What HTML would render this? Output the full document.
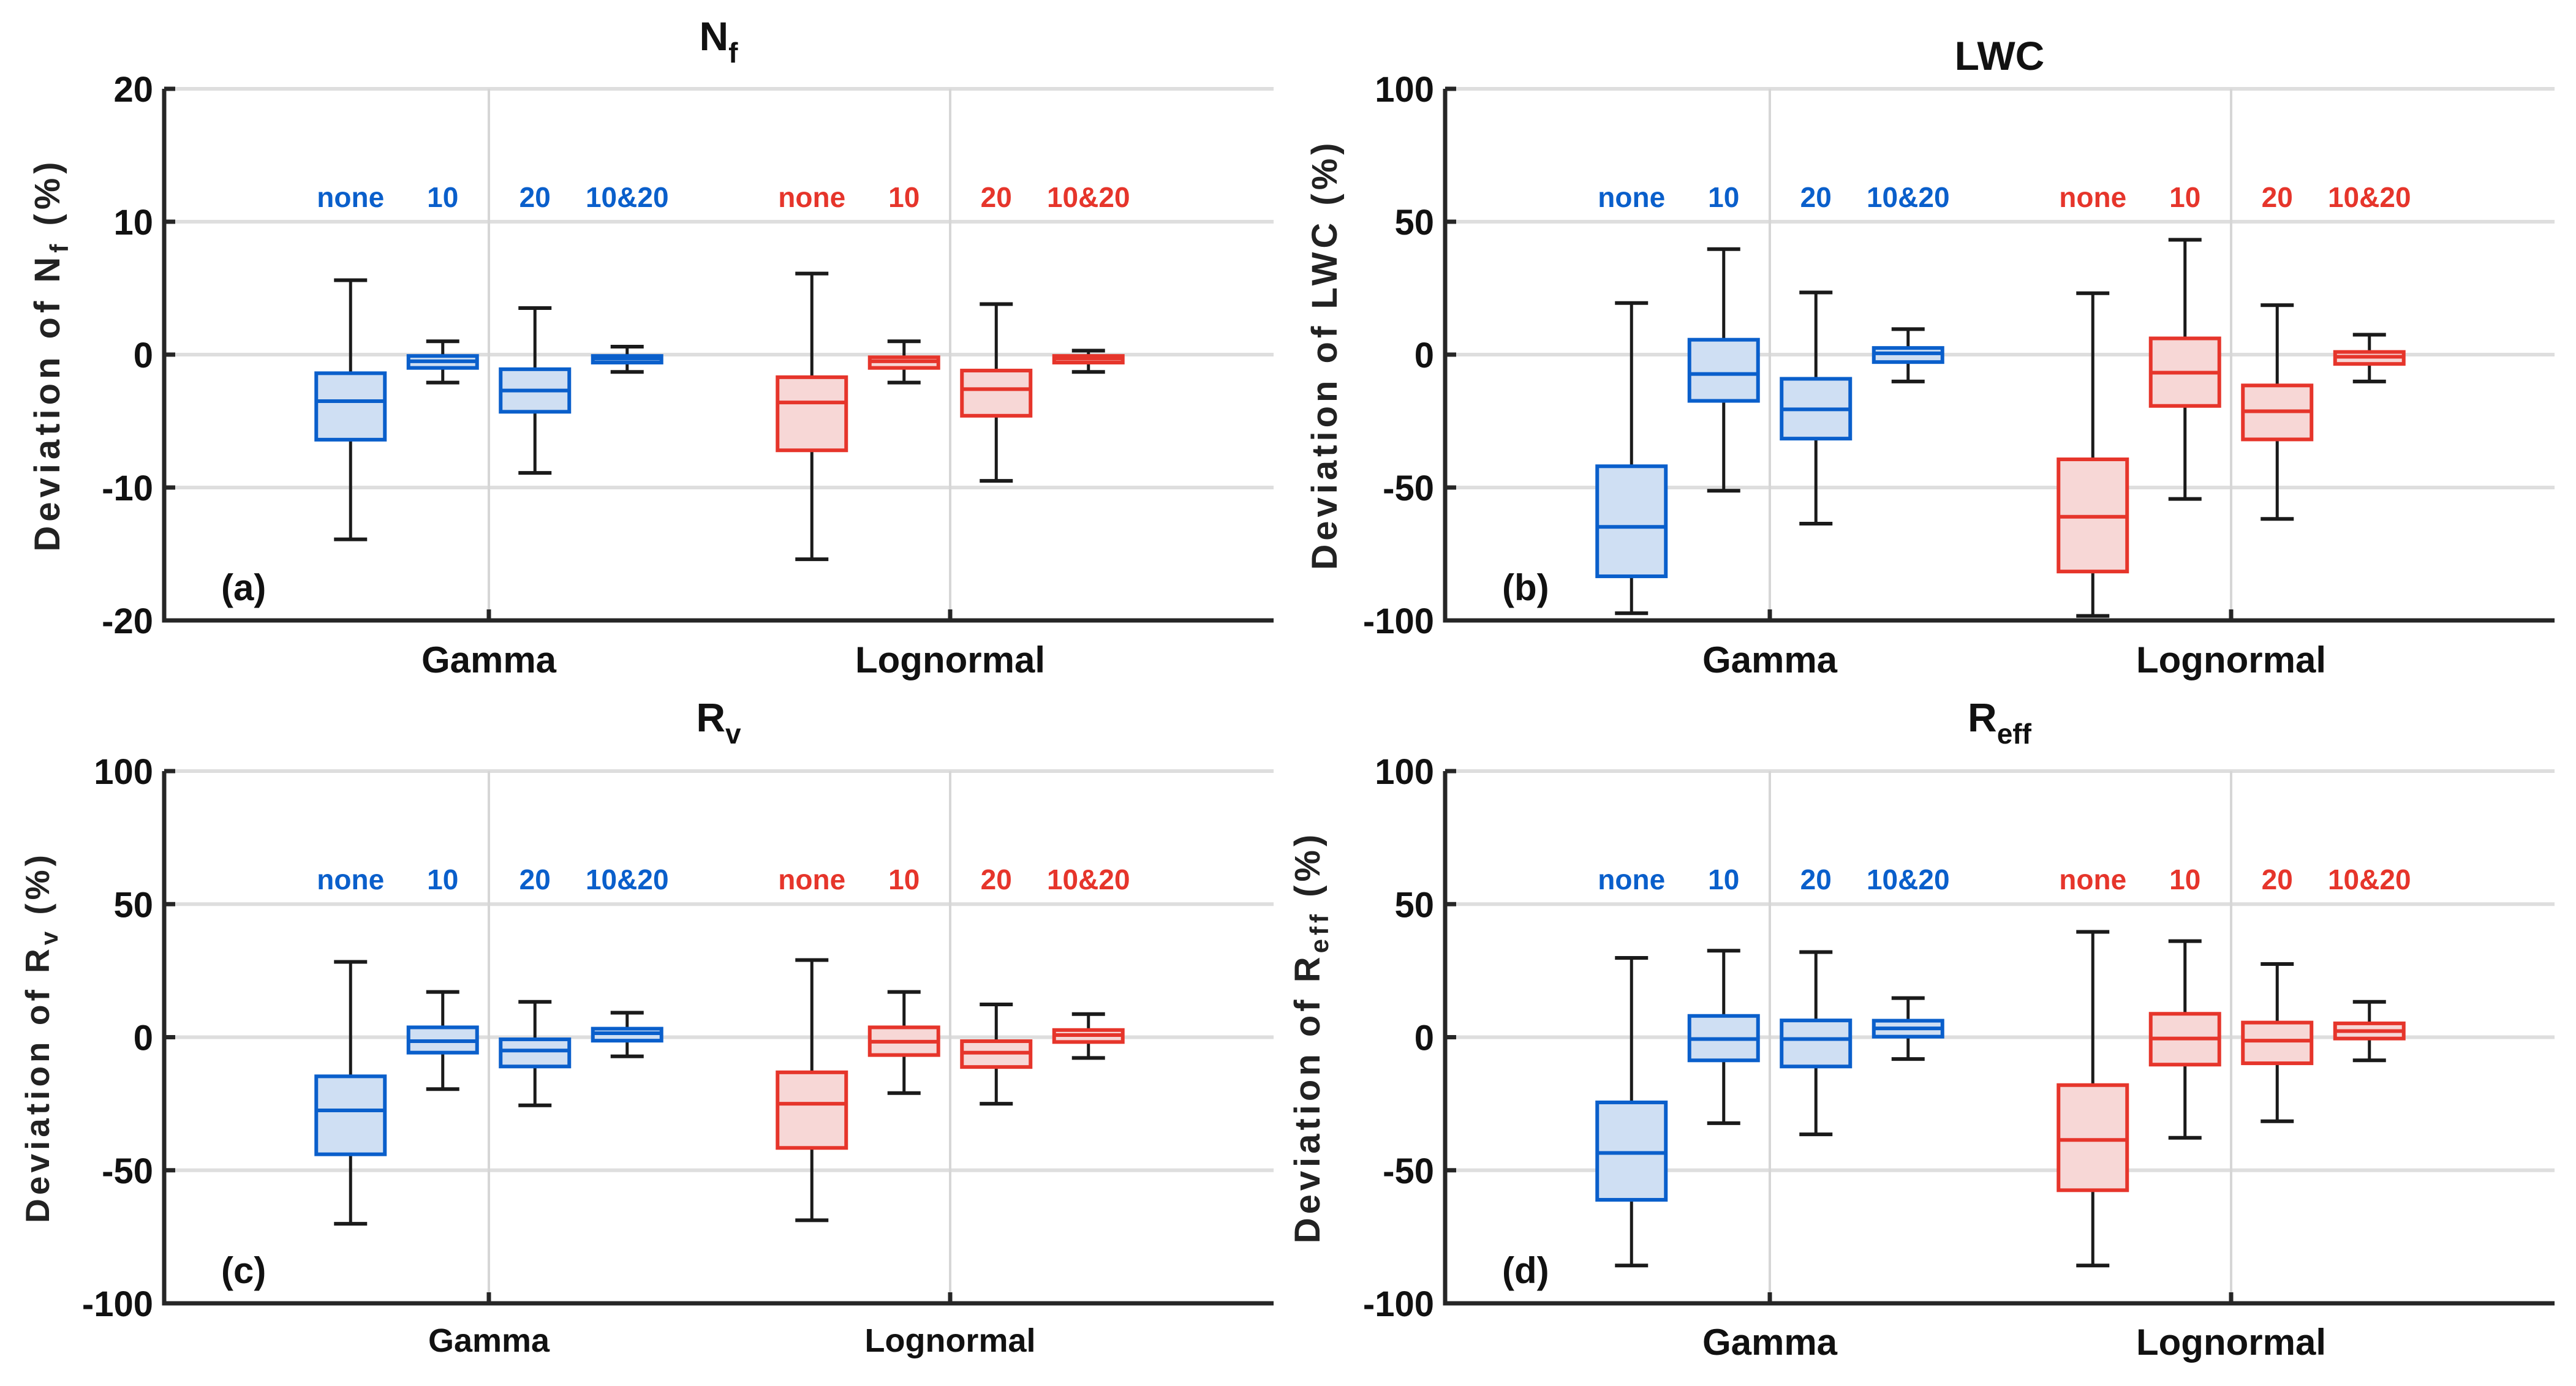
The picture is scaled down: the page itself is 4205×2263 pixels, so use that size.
<!DOCTYPE html>
<html><head><meta charset="utf-8"><style>
html,body{margin:0;padding:0;background:#fff;}
svg{display:block;font-family:"Liberation Sans",Arial,sans-serif;}
</style></head><body>
<svg id="chart" width="4205" height="2263" viewBox="0 0 4205 2263" xmlns="http://www.w3.org/2000/svg"></svg>
<script>
// ---- data: five-number summaries [whiskerLow, q1, median, q3, whiskerHigh] per filter setting
const categories = ["Gamma", "Lognormal"];
const filterLabels = ["none", "10", "20", "10&20"];
const nfGamma = [[-13.9,-6.4,-3.5,-1.4,5.6],[-2.1,-1.0,-0.5,-0.1,1.0],[-8.9,-4.3,-2.7,-1.1,3.5],[-1.3,-0.6,-0.3,-0.1,0.6]];
const nfLognormal = [[-15.4,-7.2,-3.6,-1.7,6.1],[-2.1,-1.0,-0.5,-0.2,1.0],[-9.5,-4.6,-2.6,-1.2,3.8],[-1.3,-0.6,-0.3,-0.1,0.3]];
const lwcGamma = [[-97.3,-83.4,-64.8,-42,19.4],[-51.2,-17.4,-7.3,5.6,39.7],[-63.6,-31.6,-20.6,-9.1,23.4],[-10.1,-2.8,0.5,2.5,9.6]];
const lwcLognormal = [[-98.3,-81.6,-61,-39.4,23.1],[-54.3,-19.3,-6.8,6.1,43.2],[-61.8,-31.9,-21.3,-11.6,18.6],[-10.1,-3.5,-0.8,1.0,7.5]];
const rvGamma = [[-70.1,-44,-27.5,-14.7,28.3],[-19.5,-5.8,-1.5,3.7,17],[-25.6,-11,-5,-0.8,13.3],[-7.2,-1.3,1.5,3.2,9.2]];
const rvLognormal = [[-68.8,-41.6,-25,-13.2,29],[-21,-6.7,-1.7,3.7,17],[-25,-11.2,-5.8,-1.5,12.3],[-7.8,-1.8,0.8,2.7,8.7]];
const reffGamma = [[-85.8,-61.1,-43.5,-24.5,29.8],[-32.3,-8.7,-0.7,8,32.5],[-36.5,-11,-0.7,6.3,32],[-8.2,0.2,3.3,6.2,14.7]];
const reffLognormal = [[-85.8,-57.5,-38.6,-18,39.6],[-37.8,-10.3,-0.5,8.8,36.1],[-31.6,-9.8,-1.3,5.5,27.5],[-8.7,-0.5,2.3,5.2,13.3]];
const nfTicks = [-20,-10,0,10,20];
const pctTicks = [-100,-50,0,50,100];

const NS = "http://www.w3.org/2000/svg";
const svg = document.getElementById("chart");
function el(tag, attrs, parent){
  const e = document.createElementNS(NS, tag);
  for (const k in attrs) e.setAttribute(k, attrs[k]);
  (parent||svg).appendChild(e);
  return e;
}
const BLUE="#0a5fcb", BLUEF="#cfdff3", RED="#e6352b", REDF="#f7d7d6", AX="#262626";

function panel(o){
  const g = el("g", {});
  
  
  const L=o.x0, T=o.y0, B=o.y1, R=o.x0+1811;
  const yScale = v => B - (v - o.ymin)/(o.ymax - o.ymin)*(B - T);
  const catX = i => L + 530 + i*753;
  const offs = [-1.5,-0.5,0.5,1.5];
  o.ticks.forEach(t=>{
    const gl = el("line",{x1:L,x2:R,y1:yScale(t),y2:yScale(t),stroke:"#dedede","stroke-width":6},g);
    
    
  });
  categories.forEach((c,i)=>{
    const vl = el("line",{x1:catX(i),x2:catX(i),y1:T,y2:B,stroke:"#d6d6d6","stroke-width":4},g);
    
    
  });
  [o.gamma, o.logn].forEach((set,ci)=>{
    const col = ci===0?BLUE:RED, fill = ci===0?BLUEF:REDF;
    set.forEach((s,j)=>{
      const cx = catX(ci) + offs[j]*150.5;
      const bg = el("g",{},g);
      
      
      el("line",{x1:cx,x2:cx,y1:yScale(s[4]),y2:yScale(s[3]),stroke:"#1a1a1a","stroke-width":5},bg);
      el("line",{x1:cx,x2:cx,y1:yScale(s[1]),y2:yScale(s[0]),stroke:"#1a1a1a","stroke-width":5},bg);
      el("line",{x1:cx-27,x2:cx+27,y1:yScale(s[4]),y2:yScale(s[4]),stroke:"#1a1a1a","stroke-width":6},bg);
      el("line",{x1:cx-27,x2:cx+27,y1:yScale(s[0]),y2:yScale(s[0]),stroke:"#1a1a1a","stroke-width":6},bg);
      el("rect",{x:cx-56,y:yScale(s[3]),width:112,height:Math.max(1,yScale(s[1])-yScale(s[3])),fill:fill,stroke:col,"stroke-width":6},bg);
      el("line",{x1:cx-56,x2:cx+56,y1:yScale(s[2]),y2:yScale(s[2]),stroke:col,"stroke-width":6},bg);
      const tl = el("text",{x:cx,y:o.labY,"text-anchor":"middle","font-size":46,"font-weight":"bold",fill:col},g);
      tl.textContent = filterLabels[j];
      
      
    });
  });
  const ax = el("path",{d:`M${L},${T} L${L},${B} L${R},${B}`,fill:"none",stroke:AX,"stroke-width":7},g);
  
  
  o.ticks.forEach(t=>{
    el("line",{x1:L,x2:L+18,y1:yScale(t),y2:yScale(t),stroke:AX,"stroke-width":7},g);
    const tx = el("text",{x:L-18,y:yScale(t)+21,"text-anchor":"end","font-size":58,"font-weight":"bold",fill:"#111"},g);
    tx.textContent = t;
    
    
  });
  categories.forEach((c,i)=>{
    el("line",{x1:catX(i),x2:catX(i),y1:B,y2:B-18,stroke:AX,"stroke-width":7},g);
    const ct = el("text",{x:catX(i),y:o.catY,"text-anchor":"middle","font-size":o.catSize,"font-weight":"bold",fill:"#111"},g);
    ct.textContent = c;
    
    
  });
  const pl = el("text",{x:L+93,y:B-33,"font-size":60,"font-weight":"bold",fill:"#111"},g);
  pl.textContent = o.letter;
  
  
  const ti = el("text",{x:L+905,y:o.titleY,"text-anchor":"middle","font-size":66,"font-weight":"bold",fill:"#111"},g);
  ti.innerHTML = o.title;
  
  
  const cy=(T+B)/2;
  const yl = el("text",{x:o.ylx,y:cy,"text-anchor":"middle","font-size":o.ylSize,"letter-spacing":o.ls,"font-weight":"bold",fill:"#222",transform:`rotate(-90 ${o.ylx} ${cy})`},g);
  yl.innerHTML = o.ylabel;
  
  
}

panel({name:"panel-a-nf",x0:268,y0:145,y1:1013,ymin:-20,ymax:20,ticks:nfTicks,gamma:nfGamma,logn:nfLognormal,
  labY:338,catY:1098,catSize:60,letter:"(a)",titleY:82,
  title:'N<tspan font-size="46" dy="20">f</tspan>',ylx:97,ylSize:58,ls:7,
  ylabel:'Deviation of N<tspan font-size="42" dy="14">f</tspan><tspan dy="-14"> (%)</tspan>'});
panel({name:"panel-b-lwc",x0:2359,y0:145,y1:1013,ymin:-100,ymax:100,ticks:pctTicks,gamma:lwcGamma,logn:lwcLognormal,
  labY:338,catY:1098,catSize:60,letter:"(b)",titleY:114,
  title:'LWC',ylx:2182,ylSize:58,ls:6,ylabel:'Deviation of LWC (%)'});
panel({name:"panel-c-rv",x0:268,y0:1259,y1:2128,ymin:-100,ymax:100,ticks:pctTicks,gamma:rvGamma,logn:rvLognormal,
  labY:1452,catY:2207,catSize:54,letter:"(c)",titleY:1194,
  title:'R<tspan font-size="46" dy="20">v</tspan>',ylx:80,ylSize:55,ls:6,
  ylabel:'Deviation of R<tspan font-size="40" dy="14">v</tspan><tspan dy="-14"> (%)</tspan>'});
panel({name:"panel-d-reff",x0:2359,y0:1259,y1:2128,ymin:-100,ymax:100,ticks:pctTicks,gamma:reffGamma,logn:reffLognormal,
  labY:1452,catY:2212,catSize:60,letter:"(d)",titleY:1194,
  title:'R<tspan font-size="46" dy="20">eff</tspan>',ylx:2154,ylSize:58,ls:6,
  ylabel:'Deviation of R<tspan font-size="42" dy="14">eff</tspan><tspan dy="-14"> (%)</tspan>'});
</script>
</body></html>
